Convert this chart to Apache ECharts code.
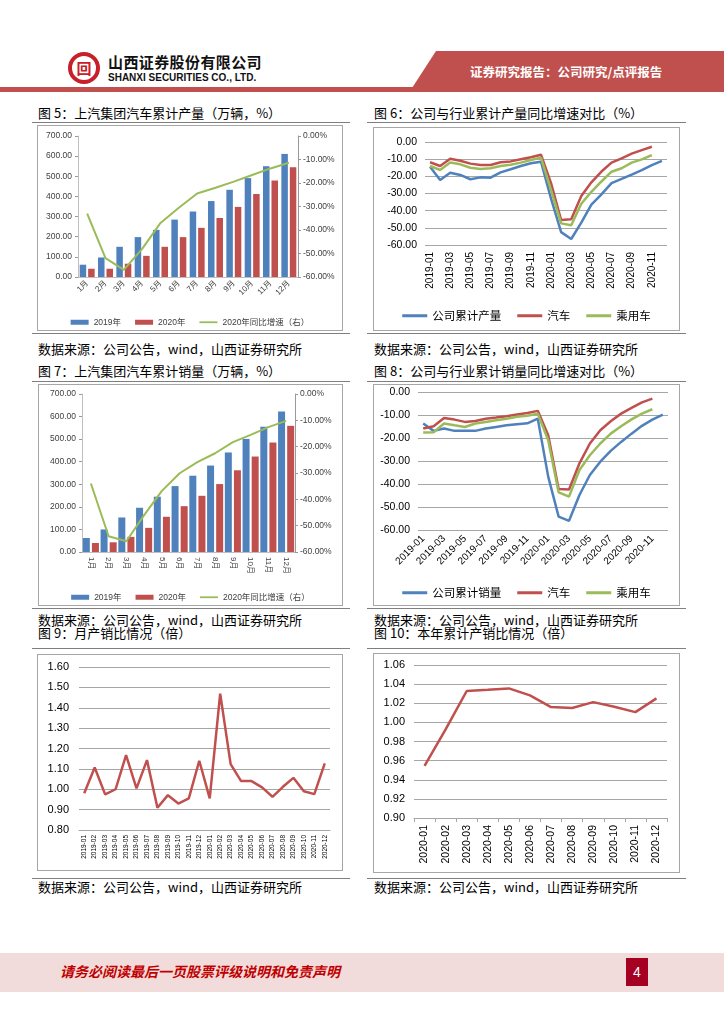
<!DOCTYPE html>
<html><head><meta charset="utf-8">
<script src="https://cdn.jsdelivr.net/npm/echarts@6/dist/echarts.min.js"></script>
<style>
body{margin:0;background:#fff;width:724px;height:1024px;position:relative;overflow:hidden;font-family:"Noto Sans CJK SC",sans-serif;}
.abs{position:absolute;}
.t{position:absolute;font-size:13px;line-height:16px;color:#000;white-space:nowrap;font-family:"Noto Sans CJK SC",sans-serif;}
.hl{position:absolute;height:0;border-top:1.5px solid #7f7f7f;}
.box{position:absolute;box-sizing:border-box;border:1px solid #a6a6a6;background:#fff;}
</style></head><body>

<svg class="abs" style="left:0;top:0" width="724" height="100">
  <polygon points="436,51 724,51 724,88 412,88" fill="#C0504D"/>
  <rect x="0" y="87" width="724" height="5" fill="#C0504D"/>
  <circle cx="84" cy="68" r="14" fill="none" stroke="#C8202A" stroke-width="4"/>
</svg>
<div class="abs" style="left:74px;top:58px;width:20px;line-height:20px;text-align:center;font-size:15px;font-weight:bold;color:#C8202A;">回</div>
<div class="abs" style="left:108px;top:53px;font-size:15px;line-height:18px;font-weight:bold;letter-spacing:0.4px;color:#111;white-space:nowrap;">山西证券股份有限公司</div>
<div class="abs" style="left:108px;top:71px;font-size:10px;line-height:13px;font-weight:bold;color:#111;white-space:nowrap;font-family:'Liberation Sans',Arial,sans-serif;">SHANXI SECURITIES CO., LTD.</div>
<div class="abs" style="left:470px;top:63px;font-size:12.5px;line-height:18px;font-weight:bold;color:#fff;white-space:nowrap;">证券研究报告：公司研究/点评报告</div>

<!-- Row 1 -->
<div class="t" style="left:38px;top:105px;">图 5：上汽集团汽车累计产量（万辆，%）</div>
<div class="t" style="left:374px;top:105px;">图 6：公司与行业累计产量同比增速对比（%）</div>
<div class="hl" style="left:32px;top:122px;width:318px;"></div>
<div class="hl" style="left:367px;top:122px;width:319px;"></div>
<div id="c5" class="box" style="left:37px;top:125px;width:306px;height:206px;"></div>
<div id="c6" class="box" style="left:373px;top:127px;width:307px;height:204px;"></div>
<div class="hl" style="left:32px;top:333px;width:318px;"></div>
<div class="hl" style="left:367px;top:333px;width:319px;"></div>
<div class="t" style="left:38px;top:341px;">数据来源：公司公告，wind，山西证券研究所</div>
<div class="t" style="left:374px;top:341px;">数据来源：公司公告，wind，山西证券研究所</div>

<!-- Row 2 -->
<div class="t" style="left:38px;top:363px;">图 7：上汽集团汽车累计销量（万辆，%）</div>
<div class="t" style="left:374px;top:363px;">图 8：公司与行业累计销量同比增速对比（%）</div>
<div class="hl" style="left:32px;top:381px;width:318px;"></div>
<div class="hl" style="left:367px;top:381px;width:319px;"></div>
<div id="c7" class="box" style="left:38px;top:384px;width:305px;height:222px;"></div>
<div id="c8" class="box" style="left:373px;top:384px;width:307px;height:222px;"></div>
<div class="hl" style="left:32px;top:608px;width:318px;"></div>
<div class="hl" style="left:367px;top:608px;width:319px;"></div>
<div class="t" style="left:38px;top:612px;">数据来源：公司公告，wind，山西证券研究所</div>
<div class="t" style="left:374px;top:612px;">数据来源：公司公告，wind，山西证券研究所</div>

<!-- Row 3 -->
<div class="t" style="left:38px;top:625px;">图 9：月产销比情况（倍）</div>
<div class="t" style="left:374px;top:625px;">图 10：本年累计产销比情况（倍）</div>
<div class="hl" style="left:32px;top:648px;width:318px;"></div>
<div class="hl" style="left:367px;top:648px;width:319px;"></div>
<div id="c9" class="box" style="left:37px;top:654px;width:306px;height:217px;"></div>
<div id="c10" class="box" style="left:373px;top:653px;width:307px;height:220px;"></div>
<div class="hl" style="left:32px;top:878px;width:318px;"></div>
<div class="hl" style="left:367px;top:878px;width:319px;"></div>
<div class="t" style="left:38px;top:879px;">数据来源：公司公告，wind，山西证券研究所</div>
<div class="t" style="left:374px;top:879px;">数据来源：公司公告，wind，山西证券研究所</div>

<!-- Footer -->
<div class="abs" style="left:0;top:953px;width:724px;height:39px;background:#F2DCDB;"></div>
<div class="abs" style="left:60px;top:962px;font-size:14px;line-height:18px;color:#C00000;font-style:italic;font-weight:bold;white-space:nowrap;">请务必阅读最后一页股票评级说明和免责声明</div>
<div class="abs" style="left:626px;top:958px;width:22px;height:28px;background:#A50021;color:#fff;font-size:14px;line-height:28px;text-align:center;font-family:'Liberation Sans',Arial,sans-serif;">4</div>

<script>
// ---------- data ----------
const months = ['1月','2月','3月','4月','5月','6月','7月','8月','9月','10月','11月','12月'];
const prod2019 = [61,97,150,198,234,285,325,377,433,491,550,611];
const prod2020 = [41,41,66,105,150,198,244,293,348,412,479,545];
const prodYoY = [-33,-52,-57,-48,-37,-30.5,-24.5,-22,-19.4,-16.6,-13.8,-11.4];
const sales2019 = [62,100,153,196,245,292,338,383,441,501,555,623];
const sales2020 = [40,43,67,107,156,203,249,301,362,423,485,559];
const salesYoY = [-34,-54,-55.9,-46,-36.8,-30.1,-25.9,-22.5,-18.3,-15.5,-12.6,-10.2];

const ym = ['2019-01','2019-02','2019-03','2019-04','2019-05','2019-06','2019-07','2019-08','2019-09','2019-10','2019-11','2019-12',
            '2020-01','2020-02','2020-03','2020-04','2020-05','2020-06','2020-07','2020-08','2020-09','2020-10','2020-11','2020-12'];
const prodCompany = [-14.4,-22.1,-17.9,-19.2,-21.7,-20.6,-20.8,-17.7,-15.9,-14.0,-12.4,-11.5,-33,-52.5,-56.5,-47,-36.5,-30.5,-24,-21.5,-19,-16.4,-13.5,-11];
const prodAuto = [-11.8,-14.0,-9.7,-10.9,-12.6,-13.4,-13.4,-11.8,-11.3,-10.1,-8.9,-7.4,-24,-45.5,-45,-31.5,-23.5,-17.2,-12,-9.5,-6.8,-4.7,-2.8,null];
const prodPassenger = [-14,-16.3,-12,-13,-15,-15.7,-15.3,-14,-13.2,-12,-10.5,-9.1,-28,-47.4,-48.5,-36,-29,-23,-17.3,-15.3,-12,-10.1,-7.6,null];

const salesCompany = [-13.7,-16.9,-15.9,-16.9,-16.9,-16.9,-15.9,-15.2,-14.5,-14.0,-13.6,-11.6,-36.8,-54.2,-56,-44.8,-36.1,-30.3,-25.6,-21.7,-18.1,-14.7,-12,-9.8];
const salesAuto = [-15.9,-14.9,-11.3,-12,-13,-12.6,-11.6,-11.1,-10.5,-9.8,-9.1,-8.2,-18.8,-42.2,-42.4,-31,-22.4,-16.6,-12.7,-9.4,-6.9,-4.5,-2.9,null];
const salesPassenger = [-17.6,-17.5,-13.7,-14.5,-15.2,-13.7,-13,-12.3,-11.6,-10.8,-10.3,-9.4,-21,-43.6,-45.5,-33.9,-27.5,-22.4,-18.1,-14.9,-11.9,-9.4,-7.5,null];

const ratioMonthly = [0.98,1.107,0.975,1.00,1.167,1.004,1.143,0.909,0.971,0.93,0.955,1.14,0.955,1.469,1.123,1.04,1.04,1.009,0.963,1.012,1.056,0.99,0.976,1.127];
const ym2020 = ['2020-01','2020-02','2020-03','2020-04','2020-05','2020-06','2020-07','2020-08','2020-09','2020-10','2020-11','2020-12'];
const ratioCum = [0.9545,0.9926,1.0328,1.0341,1.0355,1.0282,1.016,1.015,1.0212,1.0163,1.0107,1.0251];

const rightLabels = ['0.00%','-10.00%','-20.00%','-30.00%','-40.00%','-50.00%','-60.00%'];

// ---------- styles ----------
const BLUE='#4F81BD', RED='#C0504D', GREEN='#9BBB59';
const FONT = "'Liberation Sans', Arial, 'Noto Sans CJK SC', sans-serif";
const GRIDC = '#a6a6a6';

function barChart(id, grid, legendTop, y2019, y2020, yoy, rot, barW){
  const ch = echarts.init(document.getElementById(id), null, {renderer:'canvas'});
  ch.setOption({
    animation:false,
    textStyle:{fontFamily:FONT},
    grid:grid,
    legend:{top:legendTop, left:'center', itemGap:14, textStyle:{fontSize:8.5,color:'#404040',fontFamily:FONT},
      data:[{name:'2019年',icon:'rect',itemStyle:{color:BLUE}},{name:'2020年',icon:'rect',itemStyle:{color:RED}},
            {name:'2020年同比增速（右）',icon:'path://M0 0H40V4H0Z'}],
      itemWidth:18,itemHeight:5},
    xAxis:{type:'category',data:months,
      axisLine:{show:true,lineStyle:{color:'#bfbfbf'}},axisTick:{show:false},
      axisLabel:{rotate:rot,interval:0,fontSize:8,color:'#404040',margin:5}},
    yAxis:[
      {type:'value',min:0,max:700,interval:100,splitLine:{show:false},
       axisLine:{show:true,lineStyle:{color:'#bfbfbf'}},axisTick:{show:true,length:3,lineStyle:{color:'#999'}},
       axisLabel:{fontSize:8.5,color:'#404040',formatter:v=>v.toFixed(2),margin:6}},
      {type:'value',min:-60,max:0,interval:10,position:'right',splitLine:{show:false},
       axisLine:{show:true,lineStyle:{color:'#999'}},axisTick:{show:true,length:3,lineStyle:{color:'#999'}},
       axisLabel:{fontSize:8.5,color:'#404040',margin:5,
         formatter:v=>rightLabels[Math.round(-v/10)]}}
    ],
    series:[
      {name:'2019年',type:'bar',data:y2019,barWidth:barW,barGap:'30%',itemStyle:{color:BLUE}},
      {name:'2020年',type:'bar',data:y2020,barWidth:barW,barGap:'30%',itemStyle:{color:RED}},
      {name:'2020年同比增速（右）',type:'line',yAxisIndex:1,data:yoy,symbol:'none',
       lineStyle:{color:GREEN,width:2},itemStyle:{color:GREEN}}
    ]
  });
}

function lineChart(id, grid, legendTop, names, datas, rot){
  const ch = echarts.init(document.getElementById(id), null, {renderer:'canvas'});
  const colors=[BLUE,RED,GREEN];
  ch.setOption({
    animation:false,
    textStyle:{fontFamily:FONT},
    grid:grid,
    legend:{top:legendTop,left:'center',itemGap:16,itemWidth:25,itemHeight:3,icon:'rect',
      textStyle:{fontSize:11.5,color:'#000',fontFamily:"'Noto Sans CJK SC',sans-serif"}},
    xAxis:{type:'category',data:ym,axisLine:{show:false},axisTick:{show:false},
      axisLabel:{rotate:rot,interval:1,fontSize:10,color:'#000',margin:7}},
    yAxis:{type:'value',min:-60,max:0,interval:10,
      axisLine:{show:false},axisTick:{show:false},
      splitLine:{lineStyle:{color:GRIDC,width:1}},
      axisLabel:{fontSize:10.5,color:'#000',formatter:v=>v.toFixed(2),margin:8}},
    series:names.map((n,i)=>({name:n,type:'line',data:datas[i],symbol:'none',
      lineStyle:{color:colors[i],width:2.5},itemStyle:{color:colors[i]}}))
  });
}

barChart('c5',{left:40,right:44,top:10,bottom:53},187,prod2019,prod2020,prodYoY,45,6.5);
barChart('c7',{left:43,right:47,top:9,bottom:53},203,sales2019,sales2020,salesYoY,-90,7);

lineChart('c6',{left:51,right:12,top:14,bottom:85},177,['公司累计产量','汽车','乘用车'],[prodCompany,prodAuto,prodPassenger],90);
lineChart('c8',{left:44,right:11,top:7,bottom:75},197,['公司累计销量','汽车','乘用车'],[salesCompany,salesAuto,salesPassenger],45);

// chart 9
(function(){
  const ch = echarts.init(document.getElementById('c9'));
  ch.setOption({
    animation:false,
    textStyle:{fontFamily:FONT},
    grid:{left:41,right:12,top:12,bottom:40},
    xAxis:{type:'category',data:ym,axisLine:{show:true,lineStyle:{color:GRIDC}},axisTick:{show:false},
      axisLabel:{rotate:90,interval:0,fontSize:6.5,color:'#000',margin:5}},
    yAxis:{type:'value',min:0.8,max:1.6,interval:0.1,axisLine:{show:false},axisTick:{show:false},
      splitLine:{lineStyle:{color:GRIDC}},
      axisLabel:{fontSize:11,color:'#000',formatter:v=>v.toFixed(2),margin:10}},
    series:[{type:'line',data:ratioMonthly,symbol:'none',lineStyle:{color:RED,width:2.5}}]
  });
})();

// chart 10
(function(){
  const ch = echarts.init(document.getElementById('c10'));
  ch.setOption({
    animation:false,
    textStyle:{fontFamily:FONT},
    grid:{left:40,right:12,top:11,bottom:54},
    xAxis:{type:'category',data:ym2020,axisLine:{show:true,lineStyle:{color:GRIDC}},
      axisTick:{show:true,length:4,lineStyle:{color:GRIDC}},
      axisLabel:{rotate:90,interval:0,fontSize:10.5,color:'#000',margin:7}},
    yAxis:{type:'value',min:0.9,max:1.06,interval:0.02,axisLine:{show:false},axisTick:{show:false},
      splitLine:{lineStyle:{color:GRIDC}},
      axisLabel:{fontSize:11,color:'#000',formatter:v=>v.toFixed(2),margin:9}},
    series:[{type:'line',data:ratioCum,symbol:'none',lineStyle:{color:RED,width:2.5}}]
  });
})();
</script>
</body></html>
